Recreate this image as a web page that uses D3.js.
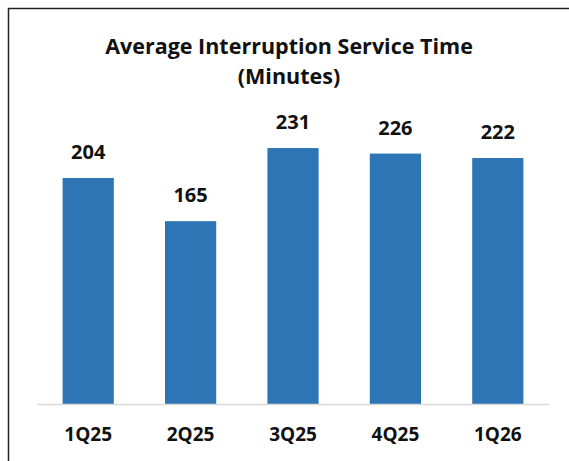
<!DOCTYPE html>
<html>
<head>
<meta charset="utf-8">
<script src="https://cdn.jsdelivr.net/npm/d3@7"></script>
<style>
  body { margin: 0; background: #fff; }
  svg { display: block; }
</style>
</head>
<body>
<svg id="chart" width="569" height="461"></svg>
<script>
const quarters = ["1Q25", "2Q25", "3Q25", "4Q25", "1Q26"]
const minutes = [204, 165, 231, 226, 222]
const titleLines = ["Average Interruption Service Time", "(Minutes)"]

const font = "'Open Sans', 'DejaVu Sans', sans-serif"
const svg = d3.select("#chart")

// frame (only top and left edges are visible in the picture)
svg.append("path")
    .attr("d", "M8.5,461 V8.5 H569")
    .attr("stroke", "#222")
    .attr("stroke-width", 1.5)
    .attr("fill", "none")

const x = d3.scaleBand()
    .domain(quarters)
    .range([37, 549])
    .paddingInner(0.5)
    .paddingOuter(0.25)

const y = d3.scaleLinear()
    .domain([0, 250])
    .range([404, 127])

svg.append("g")
    .selectAll("text")
    .data(titleLines)
    .enter()
    .append("text")
    .attr("x", 289)
    .attr("y", (d, i) => 54 + i * 30)
    .attr("text-anchor", "middle")
    .style("font-family", font)
    .style("font-weight", "bold")
    .style("font-size", "21.5px")
    .style("fill", "#111")
    .text(d => d)

svg.append("g")
    .selectAll("rect")
    .data(minutes)
    .enter()
    .append("rect")
    .attr("x", (d, i) => x(quarters[i]))
    .attr("y", d => y(d))
    .attr("width", x.bandwidth())
    .attr("height", d => y(0) - y(d))
    .attr("fill", "#2E75B6")

svg.append("g")
    .selectAll("text")
    .data(minutes)
    .enter()
    .append("text")
    .attr("x", (d, i) => x(quarters[i]) + x.bandwidth() / 2)
    .attr("y", d => y(d) - 19)
    .attr("text-anchor", "middle")
    .style("font-family", font)
    .style("font-weight", "bold")
    .style("font-size", "20px")
    .style("fill", "#111")
    .text(d => d)

const axis = svg.append("g")
    .attr("transform", `translate(0,${y(0)})`)
    .call(d3.axisBottom(x).tickSize(0).tickPadding(24))

axis.select(".domain")
    .attr("stroke", "#d9d9d9")
    .attr("stroke-width", 1.5)

axis.selectAll("text")
    .style("font-family", font)
    .style("font-weight", "bold")
    .style("font-size", "19px")
    .style("fill", "#111")
</script>
</body>
</html>
